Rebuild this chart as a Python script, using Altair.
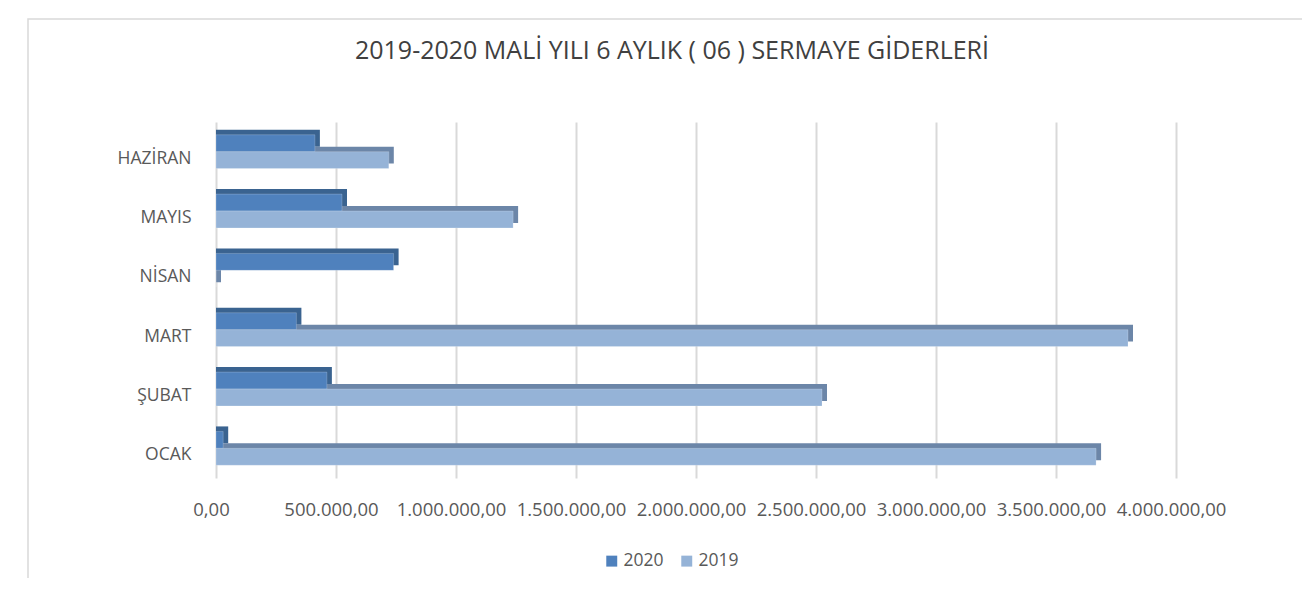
import altair as alt
import pandas as pd

months = ["HAZİRAN", "MAYIS", "NİSAN", "MART", "ŞUBAT", "OCAK"]
years = ["2020", "2019"]
values_2020 = [412000, 525000, 740000, 335000, 462000, 30000]
values_2019 = [720000, 1238000, 0, 3800000, 2525000, 3667000]
x_ticks = [0, 500000, 1000000, 1500000, 2000000, 2500000, 3000000, 3500000, 4000000]
title_text = "2019-2020 MALİ YILI 6 AYLIK ( 06 ) SERMAYE GİDERLERİ"

rows = []
for m, a, b in zip(months, values_2020, values_2019):
    rows.append({"ay": m, "yil": "2020", "deger": a})
    rows.append({"ay": m, "yil": "2019", "deger": b})
df = pd.DataFrame(rows)

W, H = 960, 356
FONT = "Open Sans"
GRAY = "#595959"
FS = 17.5
DEPTH = 5
# band width of each month group (step * (1 - paddingInner))
BANDW = H / 6 * 0.57

y_enc = alt.Y("ay:N", sort=months, title=None,
              scale=alt.Scale(paddingInner=0.43, paddingOuter=0.215),
              axis=alt.Axis(labelFontSize=FS, labelColor=GRAY, labelFont=FONT,
                            labelPadding=25, labelOffset=7, ticks=False,
                            domain=False, grid=False))
x_enc = alt.X("deger:Q", title=None,
              scale=alt.Scale(domain=[0, 4000000], nice=False),
              axis=alt.Axis(values=x_ticks, format=",.2f", labelFontSize=18.5,
                            labelColor=GRAY, labelFont=FONT, labelPadding=22,
                            labelOffset=-5, labelFlush=False,
                            labelOverlap=False, ticks=False, domain=False, grid=True,
                            gridColor="#D9D9D9", gridWidth=2))

base = alt.Chart(df)

shadow = base.mark_bar(xOffset=DEPTH, x2Offset=0).encode(
    x=x_enc, x2=alt.datum(0), y=y_enc,
    yOffset=alt.YOffset("yil:N", sort=years,
                        scale=alt.Scale(range=[-DEPTH, BANDW - DEPTH])),
    fill=alt.Fill("yil:N", sort=years, legend=None,
                  scale=alt.Scale(domain=years, range=["#3A6390", "#6C86A8"])),
)

front = base.mark_bar(stroke="#FFFFFF", strokeWidth=0.5, strokeOpacity=0.4).encode(
    x=x_enc, y=y_enc,
    yOffset=alt.YOffset("yil:N", sort=years, scale=alt.Scale(range=[0, BANDW])),
    color=alt.Color("yil:N", sort=years,
                    scale=alt.Scale(domain=years, range=["#4F81BD", "#95B3D7"]),
                    legend=alt.Legend(title=None, orient="none", direction="horizontal",
                                      legendX=387, legendY=430, symbolType="square",
                                      symbolSize=120, symbolStrokeWidth=0,
                                      labelFontSize=FS, labelColor=GRAY, labelFont=FONT,
                                      columnPadding=14, labelOffset=3)),
)

frame = alt.Chart(pd.DataFrame({"k": [0]})).mark_rect(
    fill=None, stroke="#D9D9D9", strokeWidth=1.5
).encode(x=alt.value(-188), x2=alt.value(1200), y=alt.value(-103), y2=alt.value(600))

title = alt.Chart(pd.DataFrame({"t": [title_text]})).mark_text(
    fontSize=25, font=FONT, color="#404040", align="center", baseline="middle"
).encode(text="t:N", x=alt.value(456), y=alt.value(-71))

chart = alt.layer(frame, shadow, front, title).resolve_scale(
    color="independent", fill="independent", yOffset="independent"
).properties(
    width=W, height=H,
    autosize=alt.AutoSizeParams(type="none"),
    padding={"left": 208, "top": 114, "right": 126, "bottom": 100},
).configure(
    locale={"number": {"decimal": ",", "thousands": ".", "grouping": [3],
                       "currency": ["", " ₺"]}}
).configure_view(stroke=None)

chart.save("out.html", embed_options={"renderer": "svg", "actions": False})
